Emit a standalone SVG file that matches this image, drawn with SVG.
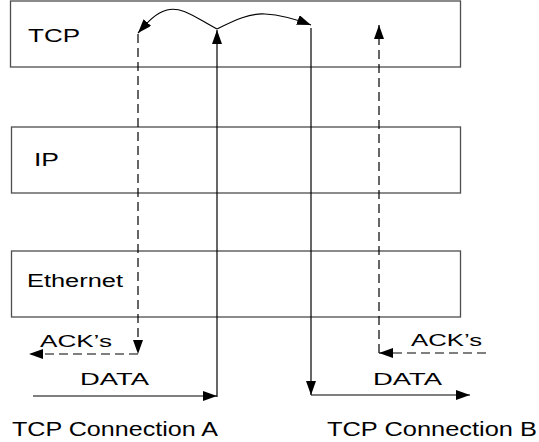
<svg xmlns="http://www.w3.org/2000/svg" width="539" height="442" viewBox="0 0 539 442">
  <style>
    .layer { fill: #ffffff; stroke: #4d4d4d; stroke-width: 1.3; }
    .label { font-family: "Liberation Sans", Arial, sans-serif; fill: #000000; }
    .line { fill: none; stroke: #000000; stroke-width: 1.2; }
    .dash { stroke-dasharray: 9 5; }
  </style>
  <defs>
    <marker id="head" markerUnits="userSpaceOnUse" markerWidth="16" markerHeight="10" refX="14" refY="5" orient="auto">
      <path d="M0,0 L14,5 L0,10 Z" fill="#000000"/>
    </marker>
  </defs>

  <!-- protocol layers -->
  <g id="tcp">
    <rect class="layer" x="10.5" y="1" width="450" height="66"/>
    <text class="label" x="28" y="42" font-size="19" textLength="52" lengthAdjust="spacingAndGlyphs">TCP</text>
  </g>
  <g id="ip">
    <rect class="layer" x="11.5" y="127" width="449" height="66"/>
    <text class="label" x="34" y="166" font-size="19" textLength="25" lengthAdjust="spacingAndGlyphs">IP</text>
  </g>
  <g id="ethernet">
    <rect class="layer" x="11.5" y="251" width="449" height="66"/>
    <text class="label" x="27" y="287" font-size="18" textLength="96" lengthAdjust="spacingAndGlyphs">Ethernet</text>
  </g>

  <!-- data and acknowledgement flows -->
  <g id="connectors">
    <!-- connection A -->
    <path class="line" d="M33,396 H217" marker-end="url(#head)"/>
    <path class="line" d="M217,397 V30" marker-end="url(#head)"/>
    <path class="line" d="M217,29 C196,18 182,6 167,10 C155,13 146,24 138,33" marker-end="url(#head)"/>
    <path class="line dash" d="M138,34 V354" marker-end="url(#head)"/>
    <path class="line dash" d="M138,354 H29" marker-end="url(#head)"/>
    <!-- connection B -->
    <path class="line" d="M217,29 C235,20 250,13 265,14 C283,15 298,20 311,25" marker-end="url(#head)"/>
    <path class="line" d="M311,28 V395" marker-end="url(#head)"/>
    <path class="line" d="M311,395 H470" marker-end="url(#head)"/>
    <path class="line dash" d="M486,353 H379" marker-end="url(#head)"/>
    <path class="line dash" d="M379,353 V25" marker-end="url(#head)"/>
  </g>

  <!-- flow labels -->
  <g id="flow-labels">
    <text class="label" x="40" y="347" font-size="16" textLength="72" lengthAdjust="spacingAndGlyphs">ACK’s</text>
    <text class="label" x="80" y="385" font-size="17" textLength="69" lengthAdjust="spacingAndGlyphs">DATA</text>
    <text class="label" x="411" y="346" font-size="16" textLength="71" lengthAdjust="spacingAndGlyphs">ACK’s</text>
    <text class="label" x="373" y="385" font-size="17" textLength="69" lengthAdjust="spacingAndGlyphs">DATA</text>
  </g>

  <g id="captions">
    <text class="label" x="12" y="436" font-size="20" textLength="206" lengthAdjust="spacingAndGlyphs">TCP Connection A</text>
    <text class="label" x="327" y="436" font-size="20" textLength="210" lengthAdjust="spacingAndGlyphs">TCP Connection B</text>
  </g>
</svg>
